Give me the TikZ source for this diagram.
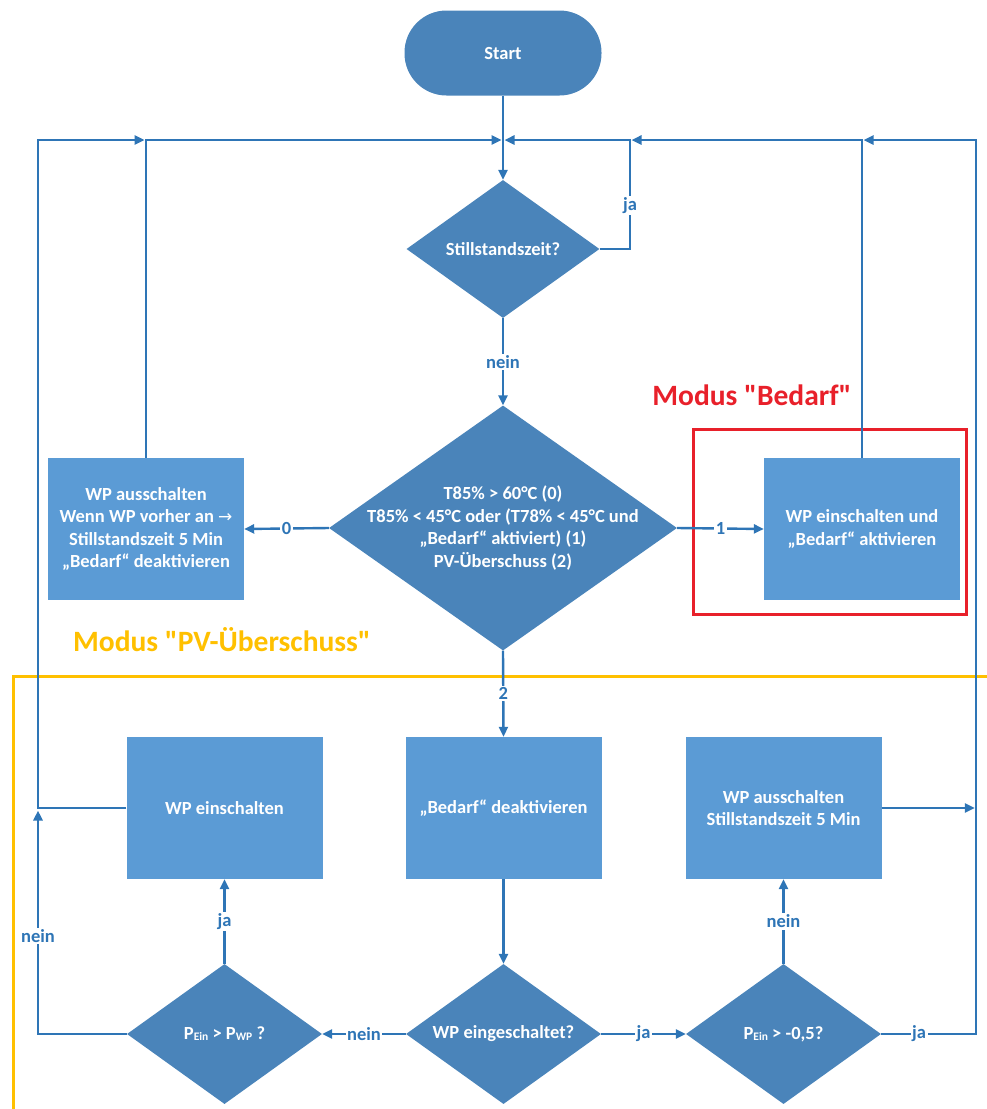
\documentclass[tikz,border=0pt]{standalone}
\usepackage{fontspec}
\setmainfont{Carlito}
\newfontfamily\modusfont{Carlito}[Ligatures=TeXOff]
\newfontfamily\dejavu{DejaVu Sans}
\usetikzlibrary{shapes.geometric,arrows.meta}
\definecolor{lineblue}{HTML}{2E75B6}
\definecolor{boxblue}{HTML}{5B9BD5}
\definecolor{diablue}{HTML}{4A84BA}
\definecolor{redc}{HTML}{E8202A}
\definecolor{yelc}{HTML}{FFC000}
\newcommand\subtxt[1]{\raisebox{-1pt}{\fontsize{11.5}{11.5}\selectfont #1}}
\begin{document}
\begin{tikzpicture}[x=1pt,y=-1pt,
  base/.style={font=\fontsize{18.5}{22.4}\selectfont\bfseries},
  box/.style={base, rectangle, fill=boxblue, text=white, minimum width=196pt, minimum height=142pt, inner sep=2pt, align=center},
  dia/.style={diamond, fill=diablue, inner sep=0pt},
  txt/.style={base, text=white, align=center, inner sep=0pt},
  arr/.style={draw=lineblue, line width=2.4pt, -{Triangle[length=10pt,width=9pt]}},
  lbl/.style={base, text=lineblue, fill=white, inner sep=1.5pt},
  modus/.style={font=\modusfont\fontsize{29.5}{31}\selectfont\bfseries, inner sep=0pt}
]
\useasboundingbox (0,0) rectangle (987,1109);
% nodes
\node[base, rounded corners=42pt, fill=diablue, text=white, minimum width=197pt, minimum height=85pt] (start) at (503,53) {Start};
\node[dia, minimum width=193pt, minimum height=138pt] (d1) at (503,249) {};
\node[txt] (d1t) at (d1) {Stillstandszeit?};
\node[dia, minimum width=348pt, minimum height=245pt] (d2) at (503,528) {};
\node[txt] (d2t) at (d2) {T85\% > 60°C (0)\\T85\% < 45°C oder (T78\% < 45°C und\\„Bedarf“ aktiviert) (1)\\PV-Überschuss (2)};
\node[box] (b0) at (146,529) {WP ausschalten\\Wenn WP vorher an {\dejavu\fontsize{17}{17}\selectfont\mdseries →}\\Stillstandszeit 5 Min\\„Bedarf“ deaktivieren};
\node[box] (b1) at (862,529) {WP einschalten und\\„Bedarf“ aktivieren};
\node[box] (b2) at (224.5,808) {WP einschalten};
\node[box] (b3) at (503.5,808) {„Bedarf“ deaktivieren};
\node[box] (b4) at (783.5,808) {WP ausschalten\\Stillstandszeit 5 Min};
\node[dia, minimum width=195pt, minimum height=140pt] (d3) at (224.5,1034) {};
\node[txt] (d3t) at (d3) {P\subtxt{Ein} > P\subtxt{WP} ?};
\node[dia, minimum width=195pt, minimum height=140pt] (d4) at (503.5,1034) {};
\node[txt] (d4t) at (d4) {WP eingeschaltet?};
\node[dia, minimum width=195pt, minimum height=140pt] (d5) at (783.5,1034) {};
\node[txt] (d5t) at (d5) {P\subtxt{Ein} > -0,5?};
% mode frames
\draw[draw=redc, line width=3pt] (693,429) rectangle (966,614);
\node[modus, text=redc] (mb) at (752,395) {Modus "Bedarf"};
\draw[draw=yelc, line width=3pt] (990,676) -- (13,676) -- (13,1112);
\node[modus, text=yelc] (mp) at (222,640) {Modus "PV-Überschuss"};
% coordinates
\coordinate (tL) at (38,140);
\coordinate (t630) at (630,140);
\coordinate (tR) at (976,140);
\coordinate (m38) at (38,808);
\coordinate (b976) at (976,1034);
\coordinate (a146) at (144.5,140);
\coordinate (aCl) at (501.5,140);
\coordinate (aCr) at (504.5,140);
\coordinate (a630) at (631.5,140);
\coordinate (a862) at (863.5,140);
\coordinate (a976) at (974.8,808);
\coordinate (a38) at (38,810.5);
% connectors
\draw[arr] (start) -- (d1);
\draw[arr] (d1.east) -| node[lbl,pos=0.7]{ja} (t630) -- (aCr);
\draw[arr] (d1.south) -- node[lbl]{nein} (d2.north);
\draw[arr] (d2.west) -- node[lbl]{0} (b0.east);
\draw[arr] (d2.east) -- node[lbl]{1} (b1.west);
\draw[arr] (d2.south) -- node[lbl]{2} (b3.north);
\draw[arr] (b0.north) |- (aCl);
\draw[arr] (b1.north) |- (a630);
\draw[arr] (b2.west) -- (m38) -- (tL) -- (a146);
\draw[arr] (b3.south) -- (d4.north);
\draw[arr] (d4.west) -- node[lbl]{nein} (d3.east);
\draw[arr] (d4.east) -- node[lbl]{ja} (d5.west);
\draw[arr] (d3.north) -- node[lbl]{ja} (b2.south);
\draw[arr] (d5.north) -- node[lbl]{nein} (b4.south);
\draw[arr] (d3.west) -| node[lbl,pos=0.72]{nein} (a38);
\draw[arr] (d5.east) -- node[lbl,pos=0.4]{ja} (b976) -- (tR) -- (a862);
\draw[arr] (b4.east) -- (a976);
\end{tikzpicture}
\end{document}
